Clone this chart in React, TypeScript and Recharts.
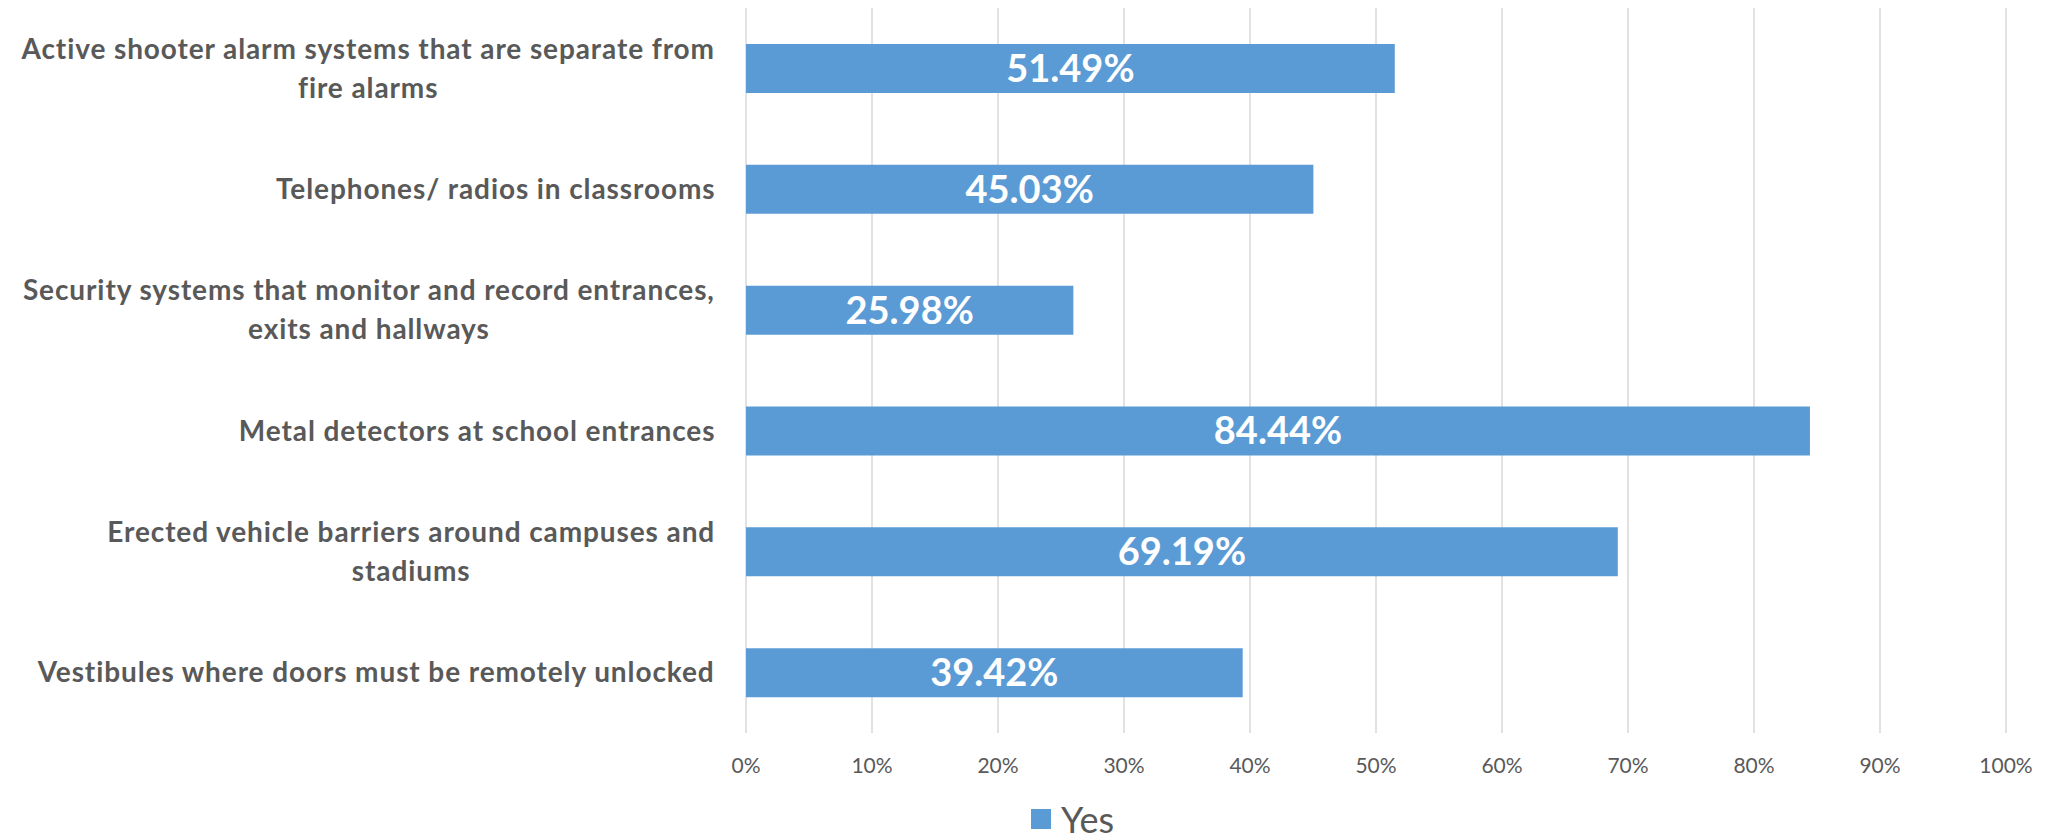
import React from 'react';
import { BarChart, Bar, XAxis, YAxis, CartesianGrid, Legend, LabelList } from 'recharts';

// categories (top to bottom), line breaks where the original wraps
const categories: string[] = [
  'Active shooter alarm systems that are separate from\nfire alarms',
  'Telephones/ radios in classrooms',
  'Security systems that monitor and record entrances,\nexits and hallways',
  'Metal detectors at school entrances',
  'Erected vehicle barriers around campuses and\nstadiums',
  'Vestibules where doors must be remotely unlocked',
];

// share answering "Yes", in percent
const yesValues: number[] = [51.49, 45.03, 25.98, 84.44, 69.19, 39.42];

const xTicks: number[] = [0, 10, 20, 30, 40, 50, 60, 70, 80, 90, 100];

const seriesName = 'Yes';

const data = categories.map((name, i) => ({ name, yes: yesValues[i] }));

const BLUE = '#5B9BD5';
const GREY_TEXT = '#595959';
const FONT = 'Lato, "Open Sans", sans-serif';
const LABEL_SIZE = 28;
const LABEL_SPACING = 0.9;
const LINE_H = 39;

let ctx: CanvasRenderingContext2D | null = null;
const measure = (s: string): number => {
  if (!ctx) ctx = document.createElement('canvas').getContext('2d');
  if (!ctx) return s.length * LABEL_SIZE * 0.5;
  ctx.font = `bold ${LABEL_SIZE}px ${FONT}`;
  return ctx.measureText(s).width + Math.max(0, s.length - 1) * LABEL_SPACING;
};

// wrapped category label: block right-aligned to the axis, each line centred in it
const CategoryTick = (props: any) => {
  const { x, y, payload } = props;
  const lines = String(payload.value).split('\n');
  const maxW = Math.max(...lines.map(measure));
  const cx = x - maxW / 2;
  const first = -((lines.length - 1) * LINE_H) / 2;
  return (
    <text
      textAnchor="middle"
      fill={GREY_TEXT}
      fontSize={LABEL_SIZE}
      fontWeight="bold"
      fontFamily={FONT}
      letterSpacing={LABEL_SPACING}
    >
      {lines.map((l, i) => (
        <tspan key={i} x={cx} y={y + first + i * LINE_H + LABEL_SIZE * 0.35}>
          {l}
        </tspan>
      ))}
    </text>
  );
};

const LegendContent = () => (
  <div style={{ display: 'flex', alignItems: 'center', fontFamily: FONT }}>
    <span style={{ width: 20, height: 20, background: BLUE, display: 'inline-block', marginRight: 10 }} />
    <span style={{ fontSize: 36, color: GREY_TEXT, lineHeight: '36px' }}>{seriesName}</span>
  </div>
);

const App: React.FC = () => {
  return (
    <div style={{ width: 2057, height: 840, background: '#fff' }}>
      <style>{'body{margin:0;overflow:hidden}'}</style>
      <BarChart
        width={2057}
        height={840}
        data={data}
        layout="vertical"
        margin={{ top: 8, right: 51, left: 0, bottom: 67 }}
      >
        <CartesianGrid horizontal={false} stroke="#D9D9D9" strokeWidth={1.5} />
        <XAxis
          type="number"
          domain={[0, 100]}
          ticks={xTicks}
          tickFormatter={(v: number) => `${v}%`}
          axisLine={false}
          tickLine={false}
          tickSize={0}
          tickMargin={25}
          height={40}
          tick={{ fill: GREY_TEXT, fontSize: 21, fontFamily: FONT }}
          interval={0}
        />
        <YAxis
          type="category"
          dataKey="name"
          width={746}
          axisLine={false}
          tickLine={false}
          tickSize={0}
          tickMargin={31}
          tick={<CategoryTick />}
          interval={0}
        />
        <Legend
          layout="horizontal"
          verticalAlign="middle"
          align="center"
          content={<LegendContent />}
          wrapperStyle={{ top: 801, left: 1031, width: 'auto' }}
        />
        <Bar dataKey="yes" name={seriesName} fill={BLUE} barSize={49} isAnimationActive={false}>
          <LabelList
            dataKey="yes"
            position="center"
            fill="#fff"
            fontSize={38}
            fontWeight="bold"
            fontFamily={FONT}
            formatter={(v: any) => `${Number(v).toFixed(2)}%`}
          />
        </Bar>
      </BarChart>
    </div>
  );
};

export default App;
